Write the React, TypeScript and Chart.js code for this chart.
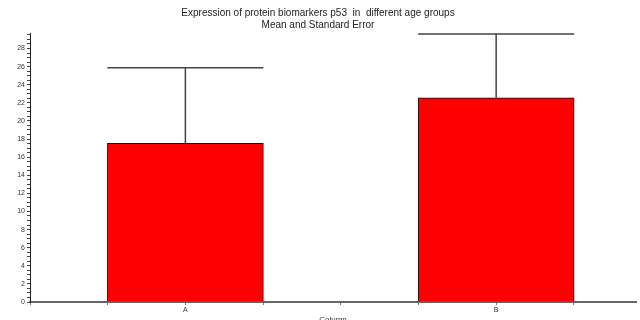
import React, { useEffect, useRef } from "react";
import { Chart, registerables } from "chart.js";

Chart.register(...registerables);

const categories = ["A", "B"];
const positions = [1, 2];
const means = [17.53, 22.56];
const stdErr = [8.35, 7.04];
const titleLines = ["Expression of protein biomarkers p53  in  different age groups", "Mean and Standard Error"];
const xTitle = "Column";

const errorBarPlugin = {
  id: "errorBars",
  afterDatasetsDraw(chart: any) {
    const { ctx } = chart;
    const xs = chart.scales.x;
    const ys = chart.scales.y;
    const meta = chart.getDatasetMeta(0);
    ctx.save();
    ctx.strokeStyle = "#444";
    ctx.lineWidth = 1.5;
    means.forEach((m, i) => {
      const x = xs.getPixelForValue(positions[i]);
      const yM = ys.getPixelForValue(m);
      const yT = ys.getPixelForValue(m + stdErr[i]);
      const half = meta.data[i].width / 2;
      ctx.beginPath();
      ctx.moveTo(x, yM);
      ctx.lineTo(x, yT);
      ctx.moveTo(x - half, yT);
      ctx.lineTo(x + half, yT);
      ctx.stroke();
    });
    ctx.restore();
  },
};

export default function App() {
  const ref = useRef<HTMLCanvasElement>(null);
  useEffect(() => {
    const chart = new Chart(ref.current!, {
      type: "bar",
      data: {
        datasets: [
          {
            data: means.map((m, i) => ({ x: positions[i], y: m })),
            backgroundColor: "#ff0000",
            borderColor: "#111",
            borderWidth: 1,
            barThickness: 156,
          },
        ],
      },
      options: {
        responsive: false,
        animation: false,
        layout: { padding: { left: 0, right: 4, top: 0, bottom: 0 } },
        plugins: {
          legend: { display: false },
          tooltip: { enabled: false },
          title: {
            display: true,
            text: titleLines,
            color: "#222",
            font: { family: "'Liberation Sans', Arial, sans-serif", size: 10, weight: "normal", lineHeight: 1.2 },
            padding: { top: 7, bottom: 2.3 },
          },
        },
        scales: {
          x: {
            type: "linear",
            offset: false,
            min: 0.5,
            max: 2.45,
            afterFit: (s: any) => {
              s.height = 18;
            },
            grid: { offset: false, drawOnChartArea: false, drawTicks: true, tickLength: 3, tickColor: "#777" },
            border: { color: "#666", width: 2 },
            ticks: {
              stepSize: 0.25,
              autoSkip: false,
              includeBounds: false,
              maxRotation: 0,
              padding: 1,
              color: "#333",
              font: { family: "'Liberation Sans', Arial, sans-serif", size: 7 },
              callback: (v: any) => {
                const idx = positions.indexOf(Number(v));
                return idx >= 0 ? categories[idx] : "";
              },
            },
            title: {
              display: true,
              text: xTitle,
              color: "#333",
              font: { family: "'Liberation Sans', Arial, sans-serif", size: 8 },
              padding: { top: 0, bottom: -5 },
            },
          },
          y: {
            min: 0,
            max: 29.68,
            afterFit: (s: any) => {
              s.width = 30;
            },
            grid: { drawOnChartArea: false, drawTicks: true, tickLength: 3, tickColor: "#444" },
            border: { color: "#222", width: 1 },
            ticks: {
              stepSize: 0.5,
              autoSkip: false,
              includeBounds: false,
              padding: 2,
              color: "#333",
              font: { family: "'Liberation Sans', Arial, sans-serif", size: 7 },
              callback: (v: any) => (Number(v) % 2 === 0 ? String(v) : ""),
            },
          },
        },
      },
      plugins: [errorBarPlugin],
    });
    return () => chart.destroy();
  }, []);
  return (
    <div style={{ position: "fixed", left: 0, top: 0, width: 640, height: 320, background: "#fff" }}>
      <canvas ref={ref} width={640} height={320} style={{ display: "block" }} />
    </div>
  );
}
